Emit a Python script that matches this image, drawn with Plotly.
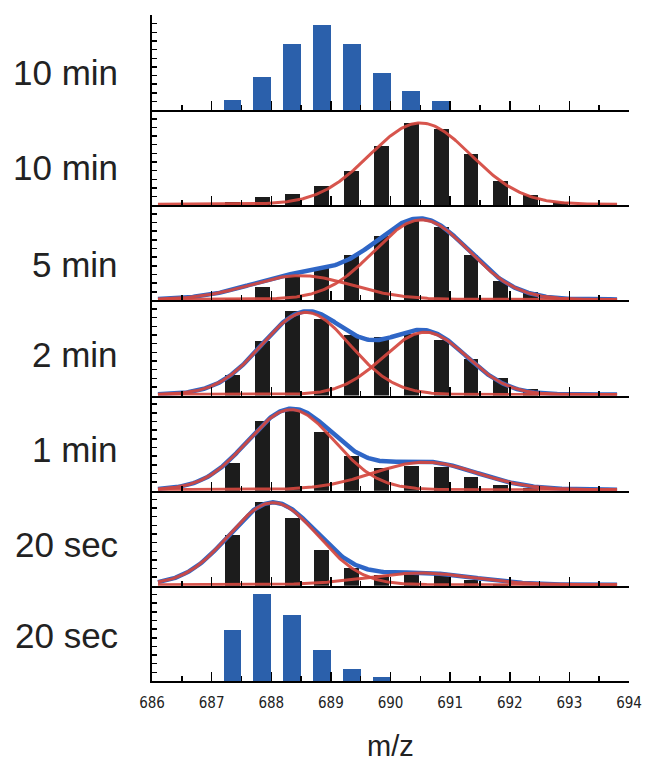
import numpy as np
import plotly.graph_objects as go

# ---------------- data ----------------
panel_labels = ["10 min", "10 min", "5 min", "2 min", "1 min", "20 sec", "20 sec"]
first_peak = 687.35          # m/z of first isotope bar
peak_step = 0.5              # isotope spacing (z = 2)

p1_blue = [12, 38, 77, 98, 76, 43, 22, 11]
p2_black = [3.5, 9.7, 13.1, 22.4, 39.9, 68.2, 95, 88.4, 59, 28.3, 11.6, 3.9]
p3_black = [1.5, 15.1, 28.7, 37.2, 52, 74, 93.4, 84.5, 52.7, 22.9, 9.3]
p4_black = [24, 63.6, 97.7, 88.8, 70.2, 68.2, 71.3, 64.7, 41.9, 19.8, 7.8]
p5_black = [31.8, 81, 91.9, 67.4, 40.3, 26, 29, 27.9, 16.3, 6.6, 2.7]
p6_black = [59.3, 97.3, 78.7, 41.9, 20.5, 12.8, 14, 12, 7, 2]
p7_blue = [59.3, 101, 76.7, 36, 13.6, 5]

# Gaussian fit components per panel: (centre, amplitude, sigma)
p2_fit = [(690.5, 94, 0.85)]
p3_fit = [(688.49, 27.5, 0.85), (690.52, 92, 0.80)]
p4_fit = [(688.58, 95, 0.74), (690.58, 72, 0.70)]
p5_fit = [(688.33, 92.6, 0.73), (690.58, 31.8, 0.87)]
p6_fit = [(688.03, 95, 0.74), (690.50, 13.6, 0.90)]
fit_baseline = 1.2
fit_start, fit_end = 686.1, 693.8

x_tick_vals = [686, 687, 688, 689, 690, 691, 692, 693, 694]
x_tick_text = ["686", "687", "688", "689", "690", "691", "692", "693", "694"]
y_max = 110

panels = [
    ("blue", p1_blue, None),
    ("black", p2_black, p2_fit),
    ("black", p3_black, p3_fit),
    ("black", p4_black, p4_fit),
    ("black", p5_black, p5_fit),
    ("black", p6_black, p6_fit),
    ("blue", p7_blue, None),
]

BLUE_BAR = "#2b60ab"
BLACK_BAR = "#1c1c1c"
RED = "#d4463e"
BLUE_LINE = "#2f66c6"

# ---------------- figure ----------------
W, H = 654, 766
ml, mr, mt, mb = 152, 17, 15, 84.5
n = len(panels)
fig = go.Figure()
layout = {}
ph = 1.0 / n

xf = np.linspace(fit_start, fit_end, 400)

def gauss(x, c, a, s):
    return a * np.exp(-((x - c) ** 2) / (2 * s * s))

for i, (kind, vals, fit) in enumerate(panels):
    idx = i + 1
    xa = "x" if idx == 1 else f"x{idx}"
    ya = "y" if idx == 1 else f"y{idx}"
    xs = [first_peak + peak_step * k for k in range(len(vals))]
    fig.add_trace(go.Bar(
        x=xs, y=vals, width=0.3 if kind == "blue" else 0.25,
        marker=dict(color=BLUE_BAR if kind == "blue" else BLACK_BAR, line=dict(width=0)),
        xaxis=xa, yaxis=ya, showlegend=False, hoverinfo="skip"))
    if fit:
        comps = [gauss(xf, c, a, s) + fit_baseline for (c, a, s) in fit]
        if len(fit) > 1:
            total = sum(gauss(xf, c, a, s) for (c, a, s) in fit) + fit_baseline
            fig.add_trace(go.Scatter(x=xf, y=total, mode="lines",
                                     line=dict(color=BLUE_LINE, width=4.5),
                                     xaxis=xa, yaxis=ya, showlegend=False, hoverinfo="skip"))
        for comp in comps:
            fig.add_trace(go.Scatter(x=xf, y=comp, mode="lines",
                                     line=dict(color=RED, width=3),
                                     opacity=0.92,
                                     xaxis=xa, yaxis=ya, showlegend=False, hoverinfo="skip"))
    top = 1 - i * ph
    bot = 1 - (i + 1) * ph
    xkey = "xaxis" if idx == 1 else f"xaxis{idx}"
    ykey = "yaxis" if idx == 1 else f"yaxis{idx}"
    last = (idx == n)
    layout[xkey] = dict(
        domain=[0, 1], anchor=ya, range=[686, 694],
        showline=True, linecolor="black", linewidth=2,
        showgrid=False, zeroline=False,
        ticks="inside", tickcolor="black", tickwidth=1.5, ticklen=9,
        tickvals=x_tick_vals, ticktext=x_tick_text,
        minor=dict(ticks="inside", dtick=0.5, tick0=686, ticklen=5,
                   tickcolor="black", tickwidth=1.5),
        showticklabels=last,
        tickfont=dict(family="DejaVu Sans Condensed, Liberation Sans Narrow, Arial Narrow, sans-serif",
                      size=15, color="#222"),
        ticklabelstandoff=7,
        fixedrange=True,
    )
    if idx != 1:
        layout[xkey]["matches"] = "x"
    layout[ykey] = dict(
        domain=[bot, top], anchor=xa, range=[0, y_max],
        showline=True, linecolor="black", linewidth=2,
        showgrid=False, zeroline=False,
        ticks="inside", tickcolor="black", tickwidth=1.5, ticklen=5,
        dtick=10, tick0=0, showticklabels=False, fixedrange=True,
    )

plot_h = H - mt - mb
plot_w = W - ml - mr
label_y_px = [73, 168, 265, 355, 450, 545, 636]
annotations = []
for lab, py in zip(panel_labels, label_y_px):
    annotations.append(dict(
        text=lab, xref="paper", yref="paper",
        x=(119 - ml) / plot_w, y=(H - mb - py) / plot_h,
        xanchor="right", yanchor="middle", showarrow=False,
        font=dict(family="Liberation Sans, Arial, sans-serif", size=35, color="#222")))
annotations.append(dict(
    text="m/z", xref="paper", yref="paper",
    x=(395 - ml) / plot_w, y=(H - mb - 747) / plot_h,
    xanchor="center", yanchor="middle", showarrow=False,
    font=dict(family="Liberation Sans, Arial, sans-serif", size=29, color="#222")))

fig.update_layout(
    width=W, height=H,
    margin=dict(l=ml, r=mr, t=mt, b=mb, pad=0),
    paper_bgcolor="white", plot_bgcolor="white",
    barmode="overlay", bargap=0,
    annotations=annotations,
    showlegend=False,
    **layout,
)

fig.write_html("out.html",
               config={"displayModeBar": False, "staticPlot": True},
               post_script="document.body.style.margin='0';document.body.style.overflow='hidden';")
